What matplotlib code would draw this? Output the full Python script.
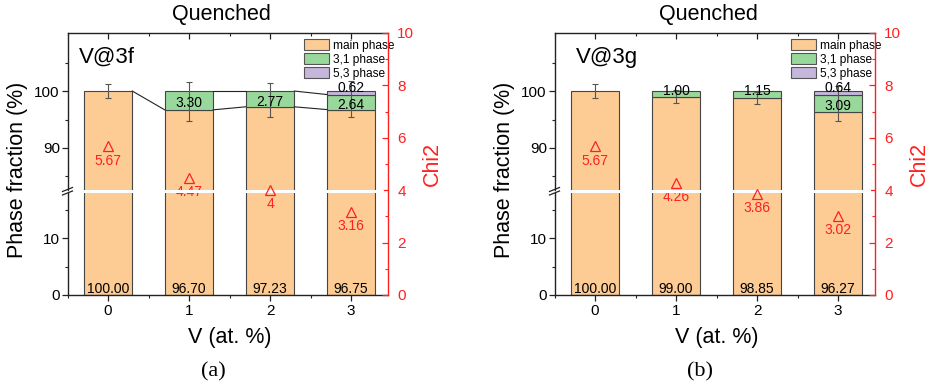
import numpy as np
import matplotlib.pyplot as plt
from matplotlib.patches import Patch
from matplotlib.ticker import MultipleLocator

plt.rcParams['font.family'] = ['Liberation Sans', 'DejaVu Sans']

W, H = 931, 389

x = [0, 1, 2, 3]
xtick_labels = ['0', '1', '2', '3']
legend_labels = ['main phase', '3,1 phase', '5,3 phase']

# (a) V@3f
main_3f = [100.00, 96.70, 97.23, 96.75]
p31_3f = [np.nan, 3.30, 2.77, 2.64]
p53_3f = [np.nan, np.nan, np.nan, 0.62]
err_lo_3f = [98.8, 94.7, 95.4, 95.5]
err_hi_3f = [101.2, 101.6, 101.5, 101.7]
chi2_3f = [5.67, 4.47, 4.0, 3.16]
chi2_txt_3f = ['5.67', '4.47', '4', '3.16']

# (b) V@3g
main_3g = [100.00, 99.00, 98.85, 96.27]
p31_3g = [np.nan, 1.00, 1.15, 3.09]
p53_3g = [np.nan, np.nan, np.nan, 0.64]
err_lo_3g = [98.8, 97.9, 97.8, 94.8]
err_hi_3g = [101.2, 100.1, 99.9, 100.9]
chi2_3g = [5.67, 4.26, 3.86, 3.02]
chi2_txt_3g = ['5.67', '4.26', '3.86', '3.02']

C_MAIN = '#fdcb94'
C_31 = '#98d89a'
C_53 = '#c5b6dc'
EDGE = '#454545'
RED = '#ff2020'
BW = 0.6

fig = plt.figure(figsize=(W / 100, H / 100), dpi=100)


def box(x0, y0, w, h):
    # pixel box, top-left origin -> figure fraction
    return [x0 / W, 1 - (y0 + h) / H, w / W, h / H]


def fmt(v):
    return '%.2f' % v


def panel(left, tag, tag_x, cap, main, p31, p53, lo, hi, chi2, chi2_txt, connect):
    top, gap_top, gap_bot, bot, width = 33, 189.5, 193, 295, 320
    main = np.array(main)
    p31 = np.array(p31)
    p53 = np.array(p53)
    cum31 = main + p31
    cum53 = main + np.nan_to_num(p31) + p53

    axu = fig.add_axes(box(left, top, width, gap_top - top))
    axl = fig.add_axes(box(left, gap_bot, width, bot - gap_bot))

    for ax in (axu, axl):
        ax.bar(x, main, BW, color=C_MAIN, edgecolor=EDGE, lw=0.8, zorder=2)
        for vals, base, col in ((p31, main, C_31), (p53, main + np.nan_to_num(p31), C_53)):
            idx = [i for i in range(len(x)) if not np.isnan(vals[i])]
            ax.bar([x[i] for i in idx], vals[idx], BW, bottom=base[idx],
                   color=col, edgecolor=EDGE, lw=0.8, zorder=2)
        ax.set_xlim(-0.5, 3.45)
        ax.xaxis.set_minor_locator(MultipleLocator(0.5))
        ax.spines['right'].set_visible(False)
        for s in ax.spines.values():
            s.set_color('#222222')
            s.set_linewidth(1.0)
        ax.tick_params(axis='y', which='both', direction='out', labelsize=11, pad=1, color='#222222')
        ax.tick_params(which='major', length=4.5, width=0.9)
        ax.tick_params(which='minor', length=2.5, width=0.8)

    # upper part
    axu.set_ylim(82.7, 110.2)
    axu.set_yticks([90, 100])
    axu.set_yticks([85, 95, 105], minor=True)
    axu.spines['bottom'].set_visible(False)
    axu.set_xticks(x)
    axu.tick_params(axis='x', which='both', bottom=False, top=True, labelbottom=False,
                    direction='in', color='#222222')

    if connect:
        for cum in (main, cum31):
            for i in range(len(x) - 1):
                if not np.isnan(cum[i]) and not np.isnan(cum[i + 1]):
                    axu.plot([x[i] + BW / 2, x[i + 1] - BW / 2], [cum[i], cum[i + 1]],
                             color='#222222', lw=0.8, zorder=3)

    axu.errorbar(x, main, yerr=[main - np.array(lo), np.array(hi) - main], fmt='none',
                 ecolor='#555555', elinewidth=0.8, capsize=2.5, capthick=0.8, zorder=4)

    for i in range(len(x)):
        if not np.isnan(p31[i]):
            mid = main[i] + p31[i] / 2
            yl = mid - 0.35 if p31[i] >= 2 else cum31[i] + 0.2
            axu.text(x[i], yl - 0.88, fmt(p31[i]), ha='center', va='baseline', fontsize=10, zorder=5)
        if not np.isnan(p53[i]):
            axu.text(x[i], cum53[i] - 0.18, fmt(p53[i]), ha='center', va='baseline', fontsize=10, zorder=5)

    handles = [Patch(facecolor=c, edgecolor='#555555', lw=0.8) for c in (C_MAIN, C_31, C_53)]
    axu.legend(handles, legend_labels, loc='upper right',
               bbox_to_anchor=(1 + 7 / width, 1 - 6 / (gap_top - top)),
               frameon=False, fontsize=8.6, borderaxespad=0, borderpad=0, handlelength=2.15,
               handleheight=1.1, handletextpad=0.3, labelspacing=0.1)

    # lower part
    axl.set_ylim(0, 17.9)
    axl.set_yticks([0, 10])
    axl.set_yticks([5, 15], minor=True)
    axl.spines['top'].set_visible(False)
    axl.set_xticks(x)
    axl.set_xticklabels(xtick_labels)
    axl.tick_params(axis='x', which='both', direction='out', labelsize=11, pad=2, color='#222222')
    for i in range(len(x)):
        axl.text(x[i], 0.35, fmt(main[i]), ha='center', va='baseline', fontsize=10, zorder=5)

    # chi2 axis over the whole height
    axc = fig.add_axes(box(left, top, width, bot - top))
    axc.patch.set_visible(False)
    axc.set_xlim(-0.5, 3.45)
    axc.set_ylim(0, 10)
    for k in ('left', 'top', 'bottom'):
        axc.spines[k].set_visible(False)
    axc.spines['right'].set_color(RED)
    axc.spines['right'].set_linewidth(1.0)
    axc.set_xticks([])
    axc.yaxis.tick_right()
    axc.yaxis.set_label_position('right')
    axc.set_yticks([0, 2, 4, 6, 8, 10])
    axc.yaxis.set_minor_locator(MultipleLocator(1))
    axc.tick_params(axis='y', which='both', colors=RED, labelsize=11, direction='in', pad=7)
    axc.tick_params(which='major', length=4.5, width=0.9)
    axc.tick_params(which='minor', length=2.5, width=0.8)

    axc.plot(x, chi2, ls='none', marker='^', mfc='none', mec=RED, ms=7, mew=0.9, zorder=4)
    for i in range(len(x)):
        axc.text(x[i], chi2[i] - 0.69, chi2_txt[i], color=RED, ha='center', va='baseline',
                 fontsize=10, zorder=2)

    # white break band and break marks
    gy0 = (bot - gap_bot) / (bot - top)
    gy1 = (bot - gap_top) / (bot - top)
    axc.axhspan(gy0 * 10, gy1 * 10, xmin=0.004, xmax=0.99, color='white', lw=0, zorder=3)
    dx, dy = 5 / width, 2 / (bot - top)
    for yy in (gy0, gy1):
        axc.plot([-dx, dx], [yy - dy, yy + dy], transform=axc.transAxes, color='#222222',
                 lw=0.9, clip_on=False, zorder=6)

    # texts
    axc.text(0.48, 1.069, 'Quenched', transform=axc.transAxes, ha='center', va='center', fontsize=15.5)
    axc.text(tag_x, 0.908, tag, transform=axc.transAxes, ha='left', va='center', fontsize=16)
    fig.text((left - 50) / W, 1 - 170 / H, 'Phase fraction (%)', rotation=90,
             ha='center', va='center', fontsize=15.5)
    fig.text((left + width + 44.5) / W, 1 - 164 / H, 'Chi2', rotation=90, color=RED,
             ha='center', va='center', fontsize=15.5)
    fig.text((left + 162) / W, 1 - 338 / H, 'V (at. %)', ha='center', va='center', fontsize=15.5)
    fig.text((left + 146) / W, 1 - 372 / H, cap, ha='center', va='center', fontsize=16,
             family='Liberation Serif')


panel(67.5, 'V@3f', 0.036, '(a)', main_3f, p31_3f, p53_3f, err_lo_3f, err_hi_3f,
      chi2_3f, chi2_txt_3f, True)
panel(554.5, 'V@3g', 0.066, '(b)', main_3g, p31_3g, p53_3g, err_lo_3g, err_hi_3g,
      chi2_3g, chi2_txt_3g, False)

fig.savefig('out.png', dpi=100)
